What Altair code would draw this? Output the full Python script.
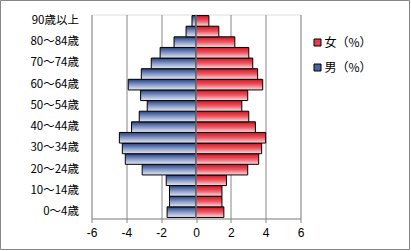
import altair as alt
import pandas as pd

ages = ["0～4歳", "5～9歳", "10～14歳", "15～19歳", "20～24歳", "25～29歳",
        "30～34歳", "35～39歳", "40～44歳", "45～49歳", "50～54歳", "55～59歳",
        "60～64歳", "65～69歳", "70～74歳", "75～79歳", "80～84歳", "85～89歳",
        "90歳以上"]
male = [1.66, 1.52, 1.52, 1.71, 3.09, 4.06, 4.23, 4.40, 3.70, 3.26, 2.80,
        3.18, 3.89, 3.14, 2.57, 2.06, 1.26, 0.57, 0.23]
female = [1.60, 1.49, 1.49, 1.75, 2.97, 3.60, 3.77, 4.00, 3.41, 3.03, 2.63,
          2.97, 3.83, 3.54, 3.26, 3.03, 2.23, 1.31, 0.74]
series = ["女（%）", "男（%）"]
x_ticks = [-6, -4, -2, 0, 2, 4, 6]

df = pd.DataFrame({"age": ages,
                   "male": [-v for v in male],
                   "female": female})
order = list(reversed(ages))
shown = [a for i, a in enumerate(ages) if i % 2 == 0]

FONT = "Noto Sans CJK JP"
GRAY = "#868686"

xscale = alt.Scale(domain=[-6, 6], nice=False)
xaxis = alt.Axis(values=x_ticks, format="d",
                 labelExpr="replace(datum.label, '\u2212', '-')",
                 labelOverlap=False, labelFlush=False, labelBound=False,
                 grid=True, gridColor=GRAY, gridWidth=1,
                 domainColor=GRAY, tickColor=GRAY, tickSize=4,
                 labelPadding=5, labelFont="Liberation Sans", labelFontSize=12,
                 labelColor="#000000")
yenc = alt.Y("age:N", sort=order, title=None,
             scale=alt.Scale(paddingInner=0, paddingOuter=0.1),
             axis=alt.Axis(values=shown, domain=False, ticks=False,
                           labelPadding=13, labelFont=FONT, labelFontSize=11.5,
                           labelColor="#000000", grid=False))

blue_grad = alt.LinearGradient(gradient="linear", x1=0, y1=0, x2=0, y2=1,
                               stops=[alt.GradientStop(offset=0, color="#22407f"),
                                      alt.GradientStop(offset=0.5, color="#8799c6"),
                                      alt.GradientStop(offset=1, color="#e4e9f4")])
red_grad = alt.LinearGradient(gradient="linear", x1=0, y1=0, x2=0, y2=1,
                              stops=[alt.GradientStop(offset=0, color="#d3121f"),
                                     alt.GradientStop(offset=0.5, color="#ea5a66"),
                                     alt.GradientStop(offset=1, color="#fadfe2")])

base = alt.Chart(df)

male_bars = base.mark_bar(fill=blue_grad, stroke="#000000", strokeWidth=1).encode(
    x=alt.X("male:Q", scale=xscale, title=None, axis=xaxis),
    y=yenc,
)
female_bars = base.mark_bar(fill=red_grad, stroke="#000000", strokeWidth=1).encode(
    x=alt.X("female:Q", scale=xscale, title=None, axis=xaxis),
    y=yenc,
)

one = pd.DataFrame({"z": [0]})
zero_rule = alt.Chart(one).mark_rule(color="#a0a0a0", strokeWidth=1).encode(
    x=alt.X("z:Q", scale=xscale, title=None, axis=xaxis)
)

leg_df = pd.DataFrame({"series": series})
legend_layer = alt.Chart(leg_df).mark_point(filled=True, shape="square", opacity=0).encode(
    color=alt.Color("series:N",
                    scale=alt.Scale(domain=series, range=["#e0404c", "#4a64a0"]),
                    legend=alt.Legend(title=None, orient="none", legendX=220, legendY=22,
                                      symbolType="square", symbolSize=49,
                                      symbolOpacity=1, symbolStrokeColor="#000000",
                                      symbolStrokeWidth=1, labelFont=FONT,
                                      labelFontSize=12, labelColor="#000000",
                                      rowPadding=13, labelOffset=1))
)

border = alt.Chart(one).mark_rect(fill=None, stroke=GRAY, strokeWidth=1).encode(
    x=alt.value(-91), x2=alt.value(318), y=alt.value(-14), y2=alt.value(235)
)

chart = alt.layer(border, male_bars, female_bars, zero_rule, legend_layer).properties(
    width=209, height=204,
    padding={"left": 91.5, "top": 14.5, "right": 110.5, "bottom": 32.5},
    autosize=alt.AutoSizeParams(type="none"),
).configure_view(stroke=None).configure_axisX(labelOverlap=False).configure(background="#ffffff")

chart.save("out.html", embed_options={"renderer": "svg", "actions": False})
